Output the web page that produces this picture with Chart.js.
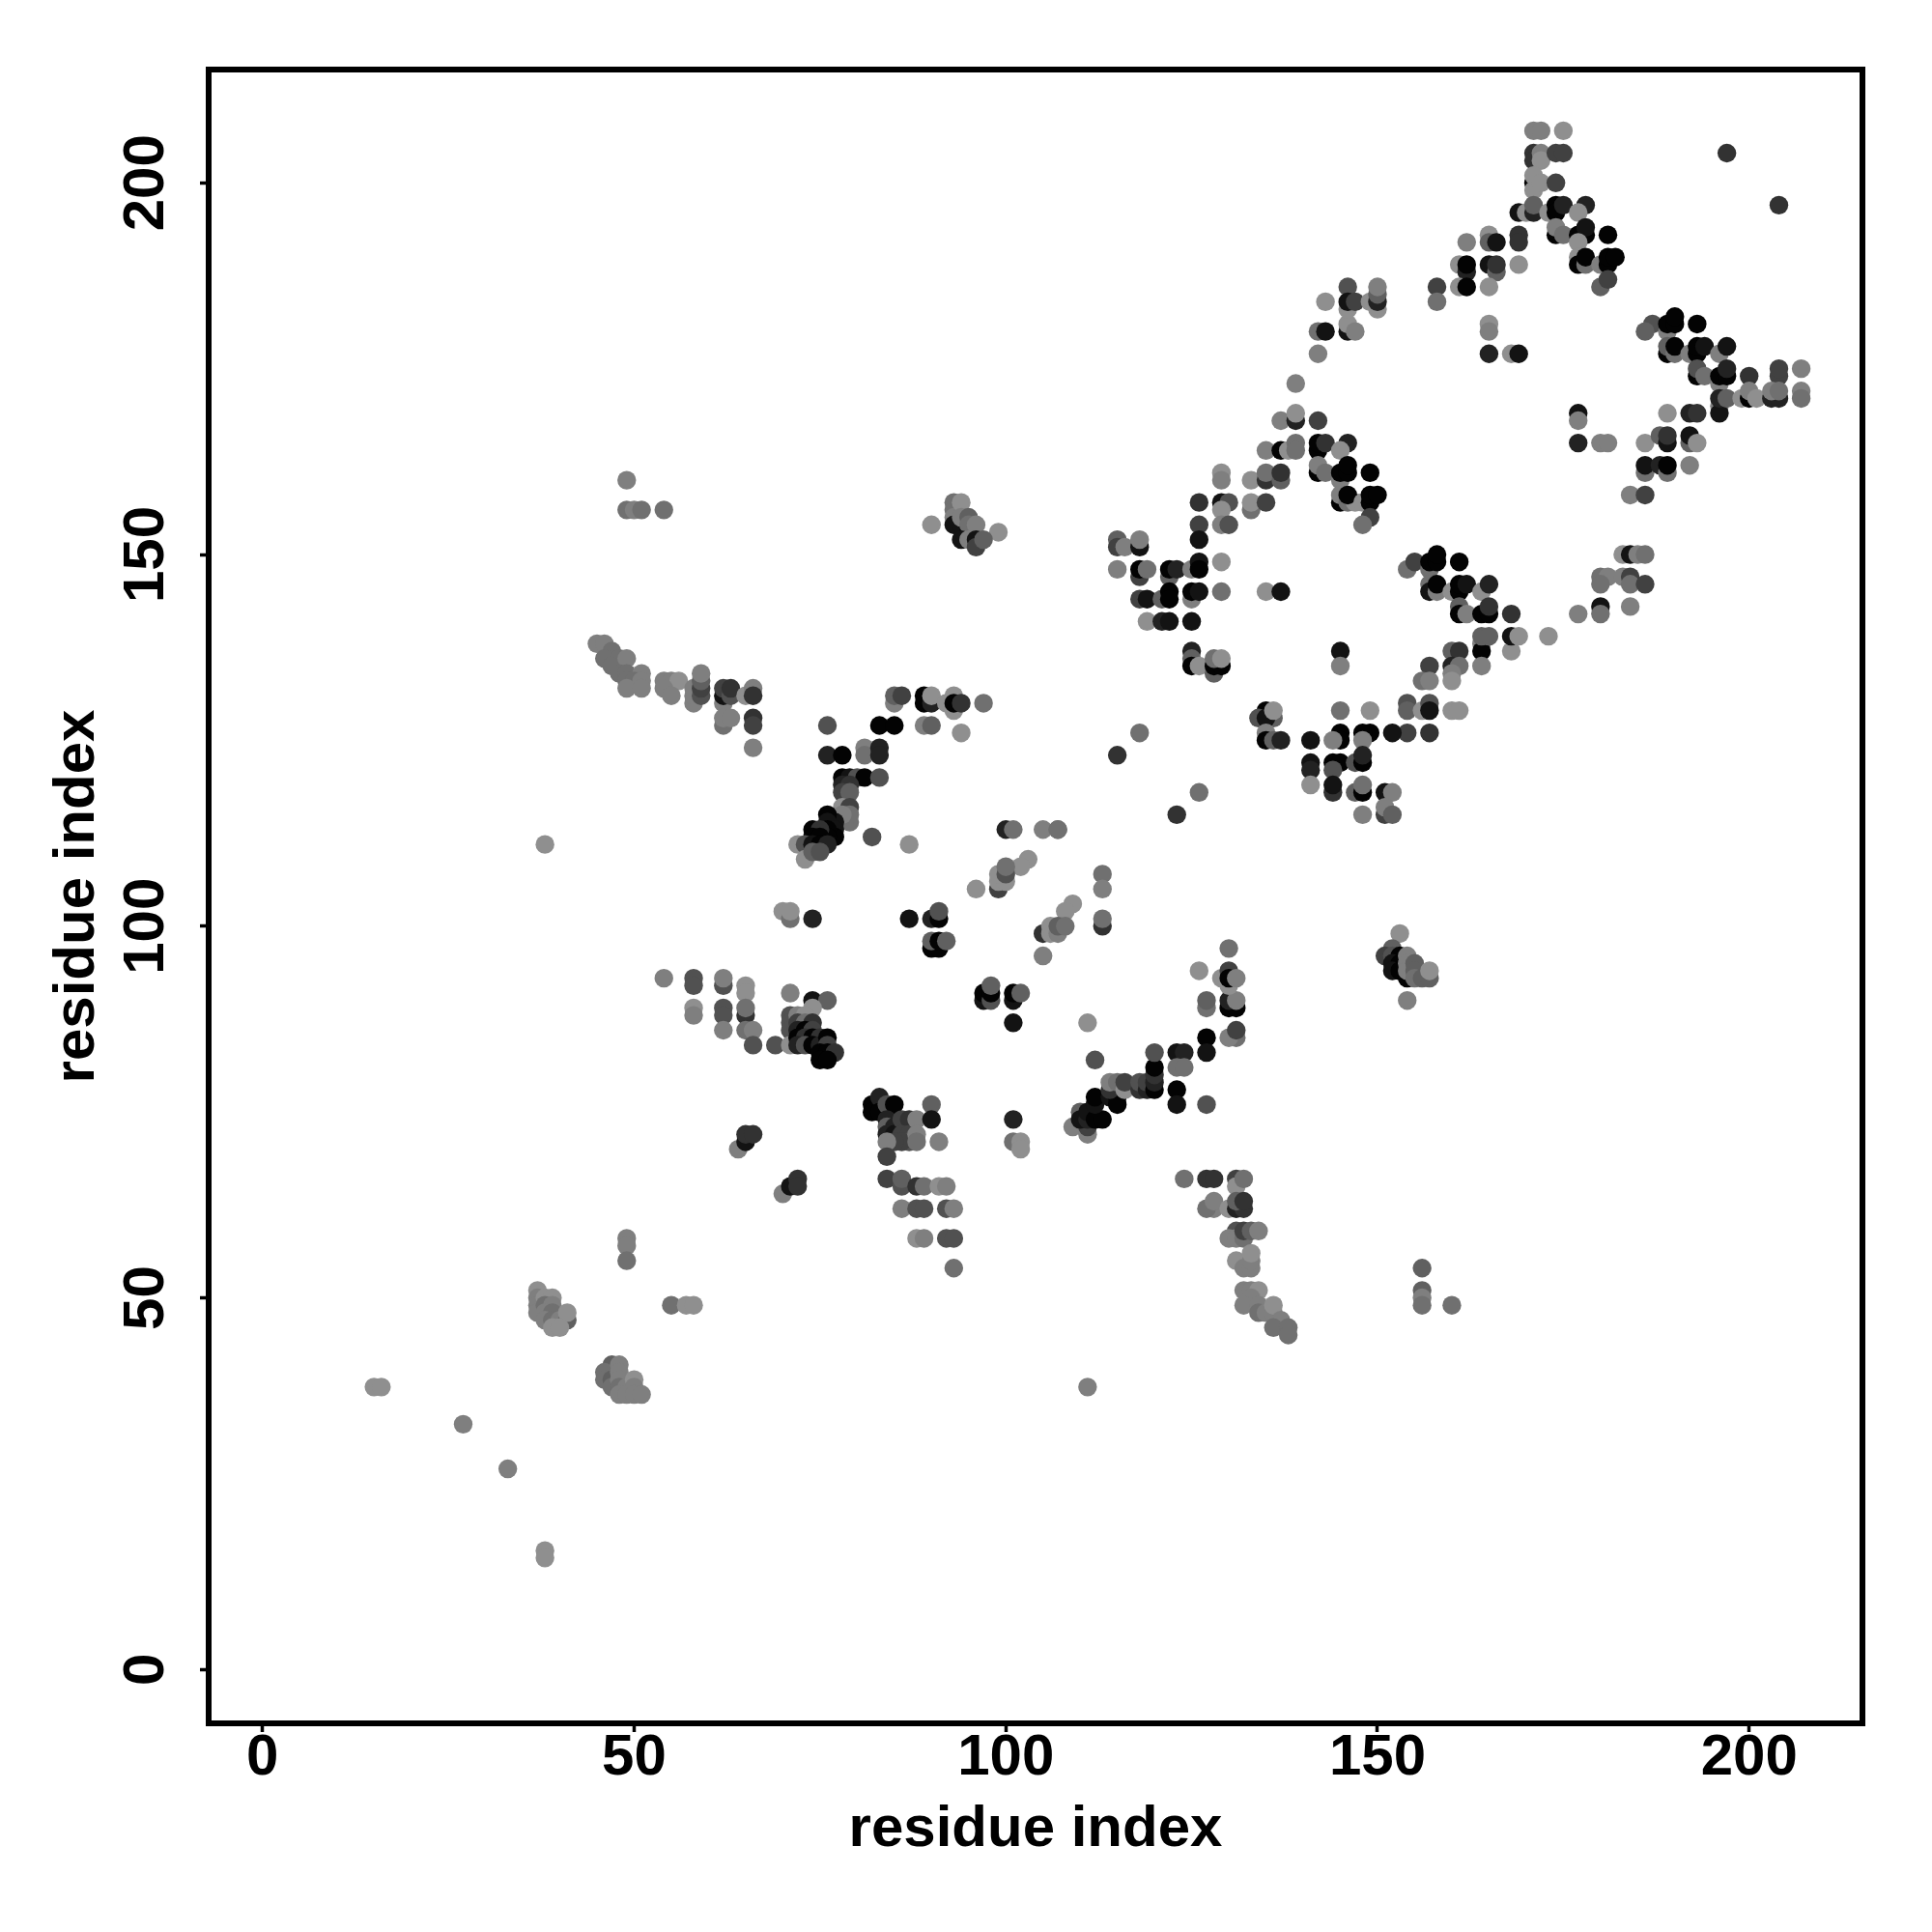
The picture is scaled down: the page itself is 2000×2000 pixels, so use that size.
<!DOCTYPE html>
<html>
<head>
<meta charset="utf-8">
<style>html,body{margin:0;padding:0;background:#fff}#w{width:2000px;height:2000px}</style>
<script src="https://cdn.jsdelivr.net/npm/chart.js@4"></script>
</head>
<body>
<div id="w"><canvas id="c" width="2000" height="2000"></canvas></div>
<script>
// each contact: [residue i, residue j, shade level 0 (strongest) .. 9 (weakest)]
const xTickValues = [0, 50, 100, 150, 200];
const yTickValues = [0, 50, 100, 150, 200];
const axisTitle = "residue index";

const lowA = [[15,38,9],[16,38,9],[27,33,8],[33,27,8],[38,16,9],[38,15,9],[55,49,7],[57,49,9],[58,49,9],[49,58,8],[49,57,8],[49,55,7],[111,38,8],[38,111,9]];
const lowB = [[37,51,9],[37,50,8],[37,49,8],[37,48,8],[38,50,9],[39,50,9],[38,49,7],[39,49,8],[38,48,8],[39,48,7],[38,47,8],[39,47,7],[40,47,8],[41,47,6],[41,48,9],[39,46,9],[40,46,9]];
const lowC = [[47,41,6],[46,40,7],[46,39,7],[47,39,6],[47,38,7],[48,41,8],[48,40,8],[48,39,8],[48,38,7],[49,38,8],[50,39,9],[50,38,8],[48,37,8],[49,37,8],[50,37,8],[51,37,8]];
const armA = [[49,160,8],[49,156,7],[50,156,8],[51,156,7],[54,156,7],[45,138,8],[46,138,8],[47,137,7],[46,136,7],[48,136,7],[47,135,7],[49,136,8],[48,134,7],[49,134,7],[51,134,8],[49,133,7],[50,133,7],[51,133,8],[49,132,8],[51,132,8]];
const armB = [[54,133,8],[55,133,8],[56,133,9],[54,132,8],[55,131,8],[58,130,8],[58,131,8],[58,132,8],[59,131,5],[59,132,4],[59,133,6],[59,134,8],[62,130,8],[62,131,1],[62,132,4],[63,131,5],[63,132,3],[65,131,9],[66,132,8],[66,131,3],[62,127,7],[62,128,8],[63,128,8],[66,128,3],[66,127,4],[66,124,8]];
const sheetA = [[90,154,9],[93,157,7],[93,156,7],[93,155,8],[93,154,1],[94,154,1],[94,157,9],[94,155,8],[95,153,0],[95,155,6],[95,154,7],[96,154,8],[99,153,9],[94,152,1],[95,152,8],[96,152,1],[96,151,4],[97,152,6]];
const sheetB = [[76,127,5],[83,127,0],[85,127,0],[89,127,8],[90,127,6],[85,130,8],[85,131,6],[86,131,4],[89,131,0],[89,130,0],[90,130,2],[90,131,9],[92,130,9],[93,129,9],[93,131,9],[93,130,0],[94,130,3],[97,130,7],[94,126,9]];
const sheetC = [[76,123,2],[78,123,0],[81,124,8],[81,123,7],[83,124,2],[83,123,2],[78,120,0],[79,120,1],[80,120,5],[81,120,0],[83,120,5],[78,119,2],[79,119,3],[78,118,4],[79,118,6]];
const sheetD = [[78,116,9],[79,116,4],[79,114,7],[79,115,7],[78,115,8],[77,114,1],[76,115,0],[76,114,1],[77,113,1],[77,112,0],[76,113,0],[76,112,0],[74,113,0],[75,113,3],[74,112,0],[75,112,0],[72,111,9],[73,111,5],[74,111,1],[75,111,0],[76,111,2],[73,109,9],[74,110,6],[75,110,5],[82,112,5],[87,111,9]];
const midA = [[100,113,2],[101,113,7],[105,113,8],[107,113,7],[103,109,9],[102,108,9],[99,105,4],[99,106,9],[100,106,9],[99,107,9],[100,107,5],[100,108,7],[96,105,9],[113,107,7],[113,105,8],[113,100,3],[113,101,7],[109,103,9],[108,102,9],[105,99,3],[106,99,9],[106,100,9],[107,99,8],[107,100,6],[108,100,7],[105,96,8]];
const midB = [[70,102,9],[71,101,7],[71,102,9],[74,101,2],[87,101,1],[90,101,2],[91,101,0],[91,102,5],[90,97,0],[91,97,0],[90,98,6],[91,98,0],[92,98,6]];
const midC = [[97,90,1],[97,91,0],[98,90,5],[98,91,0],[98,92,6],[101,90,1],[101,91,0],[102,91,6],[101,87,1],[101,74,2],[101,71,7],[102,71,9],[102,70,9]];
const loopA = [[58,93,5],[58,92,5],[58,89,9],[58,88,8],[54,93,8],[62,92,5],[62,93,8],[62,89,5],[62,88,5],[62,86,8],[65,92,9],[65,91,9],[65,88,3],[65,89,7],[65,86,7],[66,86,8],[66,84,5],[69,84,5]];
const loopB = [[71,91,8],[74,90,1],[76,90,6],[74,89,9],[71,88,5],[71,87,5],[71,86,5],[72,88,8],[73,88,9],[72,87,4],[73,87,7],[74,87,3],[72,86,2],[73,86,0],[74,86,4],[71,84,9],[72,85,0],[73,85,3],[74,85,0],[75,85,3],[72,84,2],[73,84,5],[74,84,0],[75,84,2],[76,85,0],[76,84,4],[75,83,0],[76,83,0],[77,83,3],[75,82,0],[76,82,0]];
const loopC = [[82,76,0],[82,75,0],[83,77,2],[83,75,0],[84,76,5],[85,76,0],[84,74,2],[84,73,6],[85,73,2],[84,72,2],[85,72,1],[86,74,4],[87,74,3],[86,72,4],[87,72,4],[88,74,8],[87,71,5],[86,71,4],[85,71,4],[84,71,8],[88,72,8],[88,71,7],[90,76,6],[90,74,1],[91,71,8],[84,69,4]];
const loopD = [[64,70,8],[65,71,1],[65,72,3],[66,72,3],[70,64,8],[71,65,1],[72,66,3],[72,65,3]];
const loopE = [[84,66,4],[86,65,5],[86,66,6],[88,65,3],[89,65,7],[91,65,9],[92,65,8],[86,62,8],[88,62,5],[89,62,5],[92,62,5],[93,62,8],[88,58,9],[89,58,8],[92,58,5],[93,58,5],[93,54,7]];
const chainA = [[111,87,9],[112,82,5],[109,73,8],[110,75,6],[111,72,8],[111,73,4],[110,74,1],[111,74,2],[111,75,1],[112,74,0],[113,74,0],[112,76,1],[112,77,0],[114,77,1],[115,77,0],[115,76,0],[114,78,3],[114,79,8],[115,79,7],[116,78,9],[116,79,4],[118,78,3],[118,79,5],[119,78,2],[119,79,4],[120,78,0],[120,79,2],[120,80,3],[120,81,0],[120,83,5]];
const chainB = [[123,83,1],[124,83,2],[123,81,7],[124,81,7],[123,78,0],[123,76,1],[127,85,0],[127,83,1],[127,76,5]];
const chainC = [[131,85,7],[130,85,8],[131,86,4],[127,89,7],[127,90,6],[130,89,0],[131,89,0],[130,90,2],[131,90,8],[126,94,9],[130,97,7],[130,92,9],[129,93,9],[130,94,4],[130,93,0],[131,93,8]];
const chainD = [[153,99,9],[152,97,6],[151,96,4],[152,96,5],[153,96,0],[152,95,1],[153,95,0],[152,94,1],[153,94,0],[154,93,0],[154,96,8],[154,95,8],[154,94,8],[155,95,6],[155,94,6],[155,93,7],[156,93,6],[157,93,6],[157,94,9],[154,90,8]];
const lowerA = [[124,66,7],[127,66,3],[128,66,3],[131,66,4],[131,65,9],[132,66,7],[128,62,8],[127,62,7],[128,63,8],[130,62,9],[131,62,2],[132,62,3],[131,63,6],[132,63,3],[131,59,5],[130,58,8],[131,58,8],[132,58,7],[132,59,4],[133,59,6],[134,59,8]];
const lowerB = [[131,55,9],[132,54,8],[133,54,8],[133,55,8],[133,56,9],[132,51,8],[133,51,8],[134,51,9],[133,50,8],[132,49,8],[134,49,8],[134,48,7],[135,48,8],[136,48,8],[136,49,9],[137,47,8],[136,46,7],[138,46,7],[138,45,7],[156,54,6],[156,51,6],[156,50,8],[156,49,7],[160,49,7]];
const ringA = [[115,123,3],[118,126,7],[126,118,7],[123,115,3],[107,113,7]];
const ringB = [[115,152,6],[115,151,4],[116,151,8],[118,151,1],[118,152,8],[115,148,8],[118,147,4],[118,148,0],[119,148,7],[122,147,6],[122,148,0],[123,148,2],[125,148,8],[126,149,1],[126,148,0],[129,149,9],[118,144,4],[119,144,1],[121,144,6],[122,145,0],[122,144,0],[125,144,8],[125,145,0],[126,145,1],[129,145,7],[135,145,9],[137,145,1],[119,141,9],[121,141,2],[122,141,1],[125,141,1]];
const ringC = [[125,137,2],[145,137,1],[125,136,6],[125,135,0],[126,135,9],[128,134,6],[128,135,0],[129,135,0],[128,136,7],[129,136,9],[145,135,8],[126,157,3],[129,157,1],[130,157,5],[129,156,9],[133,156,7],[133,157,9],[135,157,4],[126,154,4],[129,154,8],[130,154,5],[126,152,1],[129,161,9],[129,160,8],[133,160,9],[135,160,3],[135,161,7],[137,160,6],[137,161,3]];
const ringD = [[135,164,8],[137,164,0],[138,164,9],[139,165,7],[139,164,7],[142,164,0],[142,165,0],[143,165,3],[146,165,2],[145,164,9],[137,168,8],[139,168,2],[139,169,9],[142,168,4],[139,173,8],[142,177,8],[142,180,7],[143,180,1],[146,180,1],[146,181,9],[147,180,8],[143,184,9],[146,186,5],[146,183,9],[146,184,1],[147,184,4],[149,184,9],[150,183,9],[150,184,2],[150,185,6],[150,186,8]];
const ringE = [[142,161,0],[142,162,8],[143,161,7],[145,160,8],[145,161,0],[146,161,0],[146,162,0],[149,161,0],[145,157,0],[145,158,8],[146,157,7],[147,157,9],[146,158,0],[148,157,9],[149,157,0],[149,158,0],[150,158,0],[149,155,4],[148,154,7]];
const ringF = [[154,148,7],[155,149,4],[157,148,7],[157,149,0],[158,149,0],[158,150,0],[161,149,0],[157,146,7],[157,145,1],[158,145,8],[158,146,0],[160,145,9],[161,145,0],[161,146,0],[162,146,1],[164,145,9],[165,146,2],[161,143,6],[161,142,0],[162,142,8],[164,142,0],[165,142,0],[165,143,3],[168,142,3]];
const ringG = [[164,138,8],[164,137,0],[164,139,6],[165,139,6],[168,137,9],[168,139,1],[169,139,9],[173,139,9],[160,137,6],[161,137,3],[160,135,2],[161,135,7],[164,135,8],[160,134,8],[160,133,9],[157,135,4],[156,133,7],[157,133,8],[154,130,5],[154,129,6],[156,129,9],[157,130,5],[157,129,1],[160,129,9],[161,129,9],[154,126,4],[152,126,1],[157,126,3]];
const ringH = [[149,126,0],[148,126,0],[145,126,0],[145,125,0],[144,125,8],[148,125,8],[145,129,7],[149,129,9],[141,125,1],[141,122,1],[141,121,2],[141,119,9],[144,122,0],[145,122,0],[144,121,5],[147,122,5],[148,122,0],[148,123,2],[144,118,3],[144,119,1],[147,118,6],[148,118,0],[148,119,7],[151,118,1],[152,118,8],[151,115,4],[151,116,8],[152,115,6],[148,115,8]];
const ringI = [[135,129,0],[136,128,6],[134,128,5],[135,128,1],[136,129,9],[135,126,8],[135,125,0],[136,125,6],[137,125,2]];
const topA = [[158,186,4],[158,184,7],[161,189,9],[162,188,2],[162,189,0],[165,189,1],[166,188,6],[166,189,3],[169,189,9],[161,186,9],[162,186,0],[165,186,9],[165,193,9],[165,192,6],[166,192,1],[162,192,8],[169,193,3],[169,192,3],[165,181,9],[165,180,8],[165,177,2],[168,177,9],[169,177,1]];
const topB = [[171,207,8],[172,207,8],[175,207,9],[171,204,3],[171,203,3],[172,204,8],[172,203,9],[174,204,4],[175,204,4],[171,200,0],[171,199,9],[171,201,9],[172,200,9],[174,200,4],[169,196,1],[170,196,9],[171,196,2],[171,197,6],[173,196,9],[174,197,0],[174,196,0],[175,197,2],[178,197,2],[177,196,9]];
const topC = [[174,193,0],[174,194,8],[175,193,7],[177,193,0],[178,193,0],[178,194,1],[181,193,0],[177,192,9],[177,190,9],[177,189,0],[178,189,7],[178,190,0],[180,189,8],[181,189,0],[181,190,0],[182,190,0],[180,186,6],[181,187,4],[197,204,3],[204,197,3]];
const rightA = [[187,181,5],[186,180,6],[189,180,8],[189,181,0],[190,181,0],[190,182,0],[193,181,0],[189,177,0],[189,178,6],[190,177,7],[190,178,0],[192,177,8],[193,177,0],[193,178,0],[194,178,1],[196,177,8],[197,178,1]];
const rightB = [[193,174,0],[193,175,5],[194,174,7],[196,173,8],[196,174,0],[197,174,0],[197,175,2],[200,174,3],[204,174,4],[204,175,4],[207,175,8],[196,170,8],[196,169,1],[196,171,2],[197,171,6],[199,171,9],[200,171,0],[200,172,8],[201,171,9],[203,171,2],[204,171,2],[203,172,8],[204,172,7],[207,172,8],[207,171,7]];
const rightC = [[177,169,1],[177,168,8],[177,165,2],[180,165,8],[181,165,8],[186,165,9],[188,166,6],[189,165,1],[189,166,3],[192,165,6],[192,166,1],[193,165,9],[189,169,9],[192,169,2],[193,169,3],[186,161,7],[186,162,1],[188,162,2],[189,161,7],[189,162,0],[192,162,8],[184,158,8],[186,158,4],[180,147,7],[181,147,8],[180,146,7],[183,150,9],[184,150,1],[185,150,8],[186,150,7],[183,147,8],[184,147,4],[184,146,7],[186,146,4],[184,143,8],[177,142,8],[180,143,1],[180,142,7]];

const contacts = [].concat(lowA, lowB, lowC, armA, armB, sheetA, sheetB, sheetC, sheetD, midA, midB, midC, loopA, loopB, loopC, loopD, loopE, chainA, chainB, chainC, chainD, lowerA, lowerB, ringA, ringB, ringC, ringD, ringE, ringF, ringG, ringH, ringI, topA, topB, topC, rightA, rightB, rightC);

const shade = l => { const g = Math.round(l * 15.5) + 3; return `rgb(${g},${g},${g})`; };
const fontStack = '"Liberation Sans", Arial, sans-serif';

const frame = {
  id: 'frame',
  afterDraw(chart) {
    const { ctx, chartArea: a } = chart;
    ctx.save();
    ctx.strokeStyle = '#000';
    ctx.lineWidth = 6;
    ctx.lineJoin = 'miter';
    ctx.strokeRect(a.left, a.top, a.right - a.left, a.bottom - a.top);
    ctx.restore();
  }
};

function axis(title, tickValues, side) {
  return {
    type: 'linear',
    min: -7.24,
    max: 215.24,
    position: side,
    afterBuildTicks(s) { s.ticks = tickValues.map(v => ({ value: v })); },
    afterFit(s) { if (side === 'left') s.width = 216; else s.height = 216; },
    grid: { display: true, drawOnChartArea: false, drawTicks: true, tickLength: 9, tickWidth: 3.5, tickColor: '#000' },
    border: { display: false },
    ticks: {
      color: '#000',
      font: { family: fontStack, size: 60, weight: 'bold' },
      padding: side === 'left' ? 4 : -9,
      minRotation: side === 'left' ? 90 : 0,
      maxRotation: side === 'left' ? 90 : 0,
      crossAlign: side === 'left' ? 'center' : 'near',
      autoSkip: false,
      callback: v => String(v)
    },
    title: {
      display: true,
      text: title,
      color: '#000',
      font: { family: fontStack, size: 60, weight: 'bold' },
      padding: side === 'left' ? { top: 44, bottom: 0 } : { top: 0, bottom: 70 }
    }
  };
}

new Chart(document.getElementById('c'), {
  type: 'scatter',
  data: {
    datasets: [{
      data: contacts.map(c => ({ x: c[0], y: c[1] })),
      pointRadius: 9.7,
      pointBorderWidth: 0,
      pointBackgroundColor: contacts.map(c => shade(c[2]))
    }]
  },
  options: {
    responsive: false,
    animation: false,
    devicePixelRatio: 1,
    layout: { padding: { top: 72, right: 72, left: 0, bottom: 0 } },
    plugins: { legend: { display: false }, tooltip: { enabled: false } },
    scales: {
      x: axis(axisTitle, xTickValues, 'bottom'),
      y: axis(axisTitle, yTickValues, 'left')
    }
  },
  plugins: [frame]
});
</script>
</body>
</html>
